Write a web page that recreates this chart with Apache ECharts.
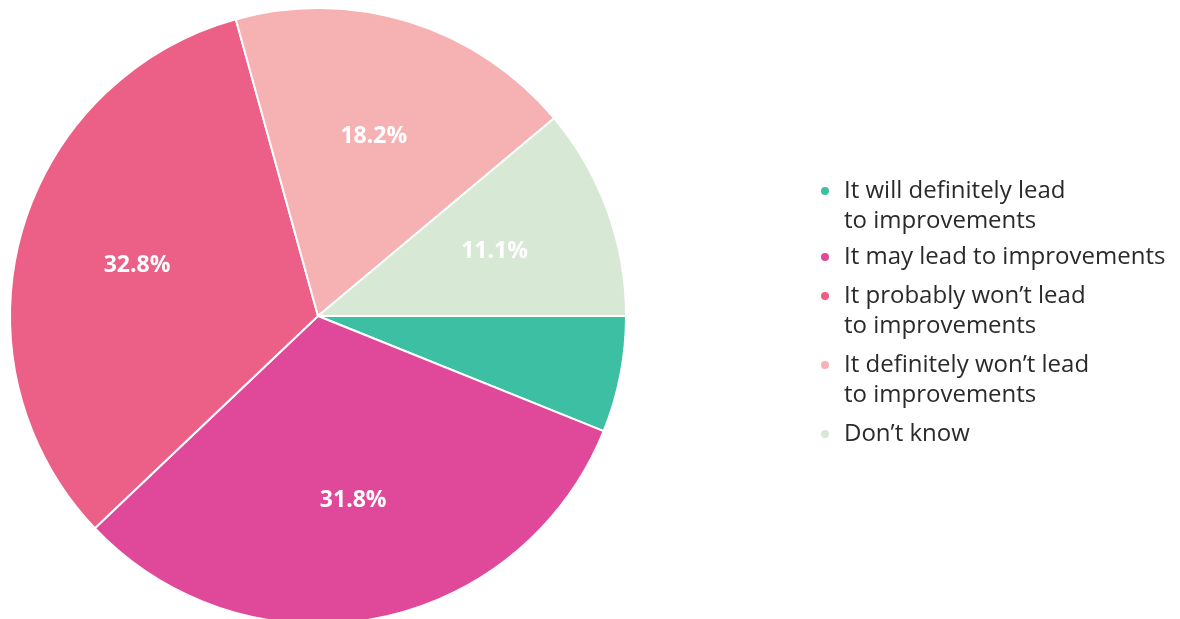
<!DOCTYPE html>
<html>
<head>
<meta charset="utf-8">
<title>Expected impact</title>
<script src="https://cdn.jsdelivr.net/npm/echarts@6/dist/echarts.min.js"></script>
<style>
  html, body { margin: 0; padding: 0; background: #ffffff; }
  #chart { width: 1180px; height: 619px; }
</style>
</head>
<body>
<div id="chart"></div>
<script>
// Answer categories, in clockwise order from 3 o'clock
const categories = [
  'It will definitely lead\nto improvements',
  'It may lead to improvements',
  'It probably won\u2019t lead\nto improvements',
  'It definitely won\u2019t lead\nto improvements',
  'Don\u2019t know'
];
// Share of respondents (%)
const values = [6.1, 31.8, 32.8, 18.2, 11.1];
// Which slices carry a percentage label
const showLabel = [false, true, true, true, true];
const colors = ['#3cbfa2', '#e0489a', '#ec5f87', '#f6b1b3', '#d7e8d4'];

// Layout
const CENTER = [318, 316];
const RADIUS = 308;
const LEGEND_LEFT = 819;
const LEGEND_TOPS = [146, 242, 251, 320, 419];
const FONT = '"Open Sans", "Noto Sans", sans-serif';

const chart = echarts.init(document.getElementById('chart'), null, { renderer: 'canvas' });

// One legend block per entry so each can sit at its own height.
// Wrapped entries get an empty leading line, which keeps the marker
// level with the first line of text.
const legends = categories.map((name, i) => {
  const wrapped = name.indexOf('\n') >= 0;
  return {
    orient: 'vertical',
    left: LEGEND_LEFT,
    top: LEGEND_TOPS[i],
    padding: 0,
    icon: 'circle',
    itemWidth: 10,
    itemHeight: 10,
    selectedMode: false,
    data: [name],
    formatter: n => (wrapped ? '\n' + n : n),
    textStyle: {
      fontFamily: FONT,
      fontSize: 24,
      lineHeight: 30,
      color: '#2a2a2a',
      padding: [0, 0, 0, 9]
    }
  };
});

const option = {
  backgroundColor: '#ffffff',
  animation: false,
  legend: legends,
  series: [
    {
      // Slices
      type: 'pie',
      center: CENTER,
      radius: [0, RADIUS],
      startAngle: 0,
      clockwise: true,
      label: { show: false },
      labelLine: { show: false },
      emphasis: { disabled: true },
      itemStyle: { borderColor: '#ffffff', borderWidth: 2 },
      data: categories.map((name, i) => ({
        name: name,
        value: values[i],
        itemStyle: { color: colors[i] }
      }))
    },
    {
      // Percentage labels, placed a little further out than the slice midpoint
      type: 'pie',
      center: CENTER,
      radius: [RADIUS * 0.2, RADIUS],
      startAngle: 0,
      clockwise: true,
      silent: true,
      z: 3,
      emphasis: { disabled: true },
      itemStyle: { color: 'rgba(0,0,0,0)', borderWidth: 0 },
      labelLine: { show: false },
      label: {
        position: 'inside',
        color: '#ffffff',
        fontFamily: FONT,
        fontSize: 23,
        fontWeight: 'bold',
        formatter: p => p.value.toFixed(1) + '%'
      },
      data: categories.map((name, i) => ({
        name: name,
        value: values[i],
        label: { show: showLabel[i] }
      }))
    }
  ]
};

chart.setOption(option);
</script>
</body>
</html>
